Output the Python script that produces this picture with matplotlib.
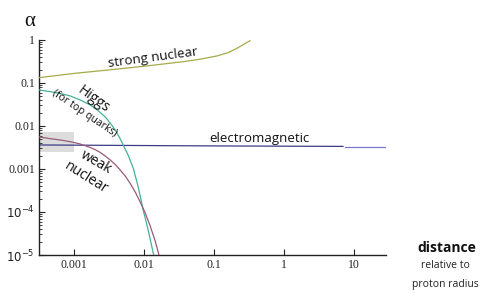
"""Coupling strengths of the four forces versus distance."""

import matplotlib
matplotlib.use("Agg")
import matplotlib.pyplot as plt
from matplotlib.ticker import FixedLocator, FixedFormatter, LogLocator, NullLocator

# distances (relative to proton radius) and couplings
strong_d = [3.19e-4, 1.04e-3, 2.02e-3, 3.89e-3, 7.52e-3, 0.0145, 0.0364,
            0.0637, 0.111, 0.160, 0.215, 0.280, 0.330]
strong_a = [0.133, 0.168, 0.187, 0.208, 0.233, 0.262, 0.313,
            0.357, 0.425, 0.507, 0.641, 0.825, 0.963]

higgs_d = [3.19e-4, 4.58e-4, 6.37e-4, 8.85e-4, 1.23e-3, 1.71e-3, 2.15e-3,
           2.80e-3, 3.30e-3, 3.89e-3, 4.44e-3, 5.06e-3, 5.97e-3, 7.03e-3,
           8.30e-3, 9.77e-3, 0.0115, 0.0136, 0.0145]
higgs_a = [0.0687, 0.0628, 0.0570, 0.0499, 0.0402, 0.0308, 0.0236,
           0.0162, 0.0117, 0.00807, 0.00555, 0.00361, 0.00208, 0.00105,
           3.81e-4, 1.11e-4, 3.81e-5, 1.11e-5, 6.9e-6]

weak_d = [3.19e-4, 4.58e-4, 6.37e-4, 8.85e-4, 1.23e-3, 1.71e-3, 2.02e-3,
          2.38e-3, 2.80e-3, 3.30e-3, 3.89e-3, 4.58e-3, 5.41e-3, 6.37e-3,
          7.51e-3, 8.85e-3, 0.01044, 0.0123, 0.0145, 0.0160, 0.0171]
weak_a = [0.00555, 0.00507, 0.00472, 0.00431, 0.00381, 0.00316, 0.00280,
          0.00242, 0.00200, 0.00162, 0.00127, 9.48e-4, 6.87e-4, 4.60e-4,
          2.92e-4, 1.71e-4, 9.48e-5, 4.72e-5, 2.12e-5, 1.17e-5, 7.65e-6]

em_d = [3.19e-4, 0.064, 7.03]
em_a = [0.00362, 0.00345, 0.00335]
em_far_d = [7.5, 28.9]
em_far_a = [0.00317, 0.00317]

shade_x = (3.19e-4, 1e-3)
shade_y = (0.0025, 0.0072)

x_ticks = [1e-3, 1e-2, 1e-1, 1, 10]
x_labels = ["0.001", "0.01", "0.1", "1", "10"]
y_ticks = [1e-5, 1e-4, 1e-3, 1e-2, 1e-1, 1]
y_labels = [r"$10^{-5}$", r"$10^{-4}$", "0.001", "0.01", "0.1", "1"]

W, H = 500, 296


def px(x, y):
    """Pixel position in the 500x296 image -> figure fraction."""
    return x / W, 1 - y / H


fig = plt.figure(figsize=(5, 2.96), dpi=100)
ax = fig.add_axes([0.078, 0.1385, 0.694, 0.7265])

ax.fill_between(shade_x, shade_y[0], shade_y[1], color="#dcdcdc", lw=0, zorder=1)

ax.plot(strong_d, strong_a, color="#a8aa48", lw=0.9, zorder=3)
ax.plot(higgs_d, higgs_a, color="#45b09a", lw=0.9, zorder=3)
ax.plot(weak_d, weak_a, color="#9a5a7a", lw=0.9, zorder=3)
ax.plot(em_d, em_a, color="#3c3c86", lw=0.9, zorder=2)
ax.plot(em_far_d, em_far_a, color="#7878c8", lw=0.9, zorder=2)

ax.set_xscale("log")
ax.set_yscale("log")
ax.set_xlim(3.16e-4, 29)
ax.set_ylim(1e-5, 1)

for side in ("top", "right"):
    ax.spines[side].set_visible(False)
for side in ("left", "bottom"):
    ax.spines[side].set_linewidth(1.0)
    ax.spines[side].set_color("#222222")

ax.xaxis.set_major_locator(FixedLocator(x_ticks))
ax.xaxis.set_major_formatter(FixedFormatter(x_labels))
ax.xaxis.set_minor_locator(NullLocator())
ax.yaxis.set_major_locator(FixedLocator(y_ticks))
ax.yaxis.set_major_formatter(FixedFormatter(y_labels))
ax.yaxis.set_minor_locator(LogLocator(base=10, subs=range(2, 10)))

ax.tick_params(which="major", direction="in", length=4, width=0.8,
               labelsize=8.5, colors="#222222", pad=3)
ax.tick_params(which="minor", direction="in", length=2, width=0.6, colors="#222222")
for lab in ax.get_xticklabels() + ax.get_yticklabels():
    lab.set_family("Liberation Serif")

label_font = "Open Sans"
txt = dict(ha="center", va="center", rotation_mode="anchor",
           family=label_font, color="#111111")

fig.text(*px(153, 58), "strong nuclear", rotation=7.5, fontsize=9.5, **txt)
fig.text(*px(93, 99), "Higgs", rotation=-36, fontsize=10, **txt)
fig.text(*px(84, 114), "(for top quarks)", rotation=-34, fontsize=7.5, **txt)
fig.text(*px(259, 139), "electromagnetic", rotation=0, fontsize=9.5, **txt)
fig.text(*px(96, 162), "weak", rotation=-30, fontsize=10, **txt)
fig.text(*px(86, 178), "nuclear", rotation=-32, fontsize=10, **txt)

fig.text(*px(30, 22), "α", ha="center", va="center", fontsize=15,
         family="Liberation Serif", color="#111111")
fig.text(*px(447, 248), "distance", ha="center", va="center", fontsize=10,
         fontweight="bold", family=label_font, color="#111111")
fig.text(*px(445, 266), "relative to", ha="center", va="center", fontsize=7.5,
         family=label_font, color="#222222")
fig.text(*px(445, 284), "proton radius", ha="center", va="center", fontsize=7.5,
         family=label_font, color="#222222")

fig.savefig("out.png", dpi=100, facecolor="white")
